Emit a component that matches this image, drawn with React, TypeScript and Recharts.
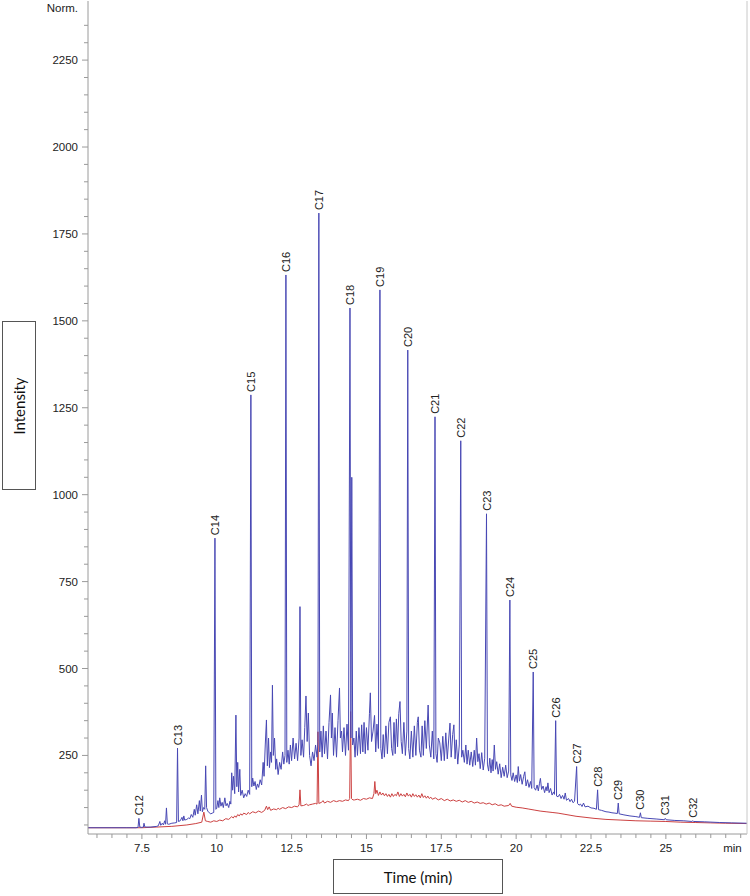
import React from 'react';
import { ComposedChart, Line, Scatter, XAxis, YAxis } from 'recharts';

// ---- data (time in min, intensity in Norm.) ----
const blueEarly: [number, number][] = [
  [5.7, 42], [6.5, 42], [7.0, 42], [7.3, 42], [7.37, 43], [7.4, 69], [7.43, 44], [7.5, 43], [7.55, 44], [7.57, 55], [7.6, 44],
  [7.8, 44], [8.0, 46], [8.05, 48], [8.1, 60], [8.13, 49], [8.18, 55], [8.22, 50], [8.26, 62], [8.29, 52], [8.32, 99], [8.35, 53],
  [8.4, 52], [8.5, 55], [8.6, 56], [8.66, 57], [8.69, 271], [8.72, 60], [8.78, 62], [8.84, 72], [8.87, 62], [8.9, 76], [8.93, 64],
  [9.0, 66], [9.06, 70], [9.1, 68], [9.15, 80], [9.2, 72], [9.25, 95], [9.28, 78], [9.33, 108], [9.37, 82], [9.42, 120], [9.45, 90],
  [9.49, 136], [9.52, 88], [9.56, 100], [9.6, 95], [9.63, 220], [9.66, 100], [9.7, 90], [9.75, 85], [9.8, 82], [9.85, 84], [9.9, 86],
  [9.94, 875], [9.97, 95], [10.0, 98], [10.04, 120], [10.07, 100], [10.1, 128], [10.14, 104], [10.18, 115], [10.22, 100], [10.27, 128],
  [10.31, 105], [10.35, 112], [10.4, 100], [10.44, 118], [10.47, 110],
];
const blueMiddle: [number, number][] = [
  [10.5, 200], [10.53, 150], [10.56, 190], [10.6, 140], [10.64, 366], [10.67, 160], [10.7, 230], [10.73, 145], [10.77, 210], [10.8, 135],
  [10.85, 150], [10.9, 128], [10.95, 140], [11.0, 132], [11.05, 150], [11.1, 138], [11.14, 1287], [11.17, 160], [11.2, 185], [11.24, 162],
  [11.28, 175], [11.32, 152], [11.36, 168], [11.4, 158], [11.45, 180], [11.5, 165], [11.55, 230], [11.58, 190], [11.62, 280], [11.66, 352],
  [11.69, 220], [11.73, 300], [11.76, 215], [11.8, 260], [11.83, 230], [11.86, 452], [11.89, 250], [11.93, 300], [11.97, 210], [12.0, 240],
  [12.05, 195], [12.1, 230], [12.15, 210], [12.2, 260], [12.24, 225], [12.28, 250], [12.31, 1632], [12.34, 230], [12.38, 265], [12.42, 225],
  [12.46, 280], [12.5, 235], [12.55, 300], [12.6, 240], [12.65, 285], [12.7, 235], [12.75, 300], [12.78, 678], [12.81, 250], [12.85, 295],
  [12.9, 245], [12.94, 330], [12.98, 421], [13.02, 290], [13.06, 372], [13.1, 250], [13.15, 220], [13.2, 260], [13.25, 235], [13.3, 280],
  [13.35, 245], [13.38, 290], [13.41, 1810], [13.44, 260], [13.48, 320], [13.52, 245], [13.56, 335], [13.6, 255], [13.65, 320], [13.7, 240],
  [13.75, 345], [13.8, 424], [13.83, 300], [13.86, 372], [13.9, 250], [13.95, 330], [14.0, 245], [14.05, 350], [14.1, 444], [14.13, 300],
  [14.17, 320], [14.2, 260], [14.25, 330], [14.3, 250], [14.35, 340], [14.4, 265], [14.45, 1537], [14.48, 300], [14.51, 1050], [14.54, 280],
  [14.58, 300], [14.62, 245], [14.66, 320], [14.7, 250], [14.75, 330], [14.8, 255], [14.84, 338], [14.88, 260], [14.92, 345], [14.96, 255],
  [15.0, 330], [15.05, 265], [15.1, 370], [15.13, 430], [15.17, 290], [15.22, 320], [15.27, 365], [15.31, 260], [15.35, 340], [15.4, 270],
  [15.45, 1589], [15.48, 270], [15.52, 240], [15.56, 310], [15.6, 245], [15.65, 335], [15.7, 255], [15.75, 345], [15.8, 361], [15.84, 270],
  [15.88, 250], [15.92, 345], [15.96, 255],
];
const blueLate: [number, number][] = [
  [16.0, 355], [16.04, 275], [16.08, 370], [16.12, 405], [16.16, 290], [16.2, 255], [16.25, 345], [16.3, 250], [16.35, 320], [16.38, 1416],
  [16.41, 270], [16.45, 240], [16.5, 320], [16.55, 245], [16.6, 335], [16.65, 250], [16.7, 345], [16.73, 361], [16.77, 265], [16.82, 245],
  [16.86, 335], [16.9, 250], [16.95, 350], [17.0, 270], [17.06, 395], [17.1, 280], [17.15, 245], [17.2, 320], [17.25, 240], [17.29, 1224],
  [17.32, 255], [17.36, 230], [17.4, 300], [17.45, 286], [17.5, 235], [17.55, 305], [17.6, 235], [17.65, 315], [17.7, 240], [17.75, 300],
  [17.79, 343], [17.83, 245], [17.88, 310], [17.92, 338], [17.96, 240], [18.0, 295], [18.05, 225], [18.1, 280], [18.15, 1155], [18.18, 245],
  [18.22, 265], [18.27, 230], [18.32, 280], [18.36, 225], [18.4, 265], [18.45, 222], [18.5, 260], [18.55, 218], [18.6, 265], [18.64, 222],
  [18.68, 300], [18.72, 232], [18.76, 255], [18.8, 212], [18.85, 258], [18.9, 208], [18.95, 242], [19.01, 945], [19.04, 225], [19.08, 205],
  [19.12, 242], [19.16, 200], [19.2, 238], [19.23, 205], [19.27, 280], [19.31, 210], [19.35, 232], [19.4, 196], [19.45, 226], [19.5, 186],
  [19.55, 216], [19.6, 190], [19.65, 222], [19.7, 186], [19.75, 205], [19.79, 697], [19.82, 194], [19.86, 178], [19.9, 200], [19.95, 175],
  [20.0, 194], [20.04, 172], [20.07, 218], [20.11, 176], [20.15, 195], [20.2, 167], [20.25, 190], [20.29, 203], [20.33, 162], [20.38, 180],
  [20.43, 158], [20.48, 175], [20.52, 155], [20.57, 490], [20.6, 158], [20.65, 150], [20.7, 165], [20.74, 148], [20.78, 170], [20.81, 184],
  [20.85, 152], [20.9, 162], [20.95, 143], [21.0, 160], [21.03, 148], [21.06, 171], [21.1, 143], [21.15, 155], [21.2, 136], [21.25, 145],
  [21.28, 138], [21.32, 350], [21.35, 133], [21.4, 131], [21.45, 138],
];
const blueTail: [number, number][] = [
  [21.5, 126], [21.55, 135], [21.6, 124], [21.64, 142], [21.68, 121], [21.75, 126], [21.8, 117], [21.85, 124], [21.9, 114], [21.95, 118],
  [22.02, 218], [22.05, 112], [22.1, 107], [22.15, 110], [22.2, 103], [22.25, 113], [22.3, 102], [22.4, 104], [22.5, 99], [22.6, 98],
  [22.68, 95], [22.72, 151], [22.75, 94], [22.85, 92], [23.0, 88], [23.1, 87], [23.2, 85], [23.3, 84], [23.38, 83], [23.41, 113],
  [23.44, 82], [23.6, 79], [23.8, 76], [24.0, 74], [24.12, 72], [24.15, 85], [24.18, 71], [24.4, 69], [24.7, 67], [24.95, 65],
  [24.98, 69], [25.01, 65], [25.3, 63], [25.6, 62], [25.87, 60], [25.9, 62], [25.93, 60], [26.3, 59], [26.8, 57], [27.2, 56], [27.71, 55],
];

const redEarly: [number, number][] = [
  [5.7, 42], [7.0, 42], [7.5, 42], [8.0, 44], [8.5, 46], [9.0, 50], [9.3, 54], [9.5, 58], [9.57, 87], [9.62, 62], [9.7, 60], [9.8, 58],
  [9.9, 62], [10.0, 60], [10.1, 64], [10.2, 62], [10.3, 68], [10.4, 66], [10.5, 74], [10.55, 70], [10.6, 76], [10.65, 72], [10.7, 80],
  [10.75, 76], [10.8, 82], [10.85, 78], [10.9, 84], [11.0, 80], [11.05, 86], [11.1, 82], [11.2, 88], [11.3, 85], [11.4, 90], [11.5, 86],
  [11.6, 92], [11.66, 104], [11.7, 94], [11.75, 102], [11.8, 92], [11.9, 96], [12.0, 94], [12.05, 98], [12.1, 95], [12.2, 100], [12.3, 97],
  [12.4, 102], [12.5, 100], [12.6, 104], [12.7, 102], [12.75, 108], [12.78, 151], [12.81, 105], [12.9, 106],
];
const redMiddle: [number, number][] = [
  [13.0, 110], [13.05, 106], [13.1, 108], [13.2, 110], [13.3, 112], [13.35, 110], [13.38, 318], [13.41, 112], [13.5, 115], [13.55, 120],
  [13.6, 113], [13.7, 118], [13.8, 115], [13.9, 120], [14.0, 117], [14.1, 120], [14.2, 118], [14.3, 122], [14.4, 120], [14.44, 126],
  [14.47, 376], [14.5, 126], [14.55, 122], [14.6, 122], [14.7, 124], [14.8, 121], [14.9, 126], [15.0, 124], [15.1, 128], [15.2, 126],
  [15.25, 140], [15.28, 175], [15.31, 140], [15.35, 150], [15.4, 135], [15.45, 145], [15.5, 136], [15.55, 142], [15.6, 134], [15.65, 140],
  [15.7, 132], [15.75, 138], [15.8, 130], [15.85, 140], [15.9, 132], [15.95, 138], [16.0, 134], [16.05, 145], [16.1, 132], [16.15, 140],
  [16.2, 133], [16.25, 138], [16.3, 131], [16.35, 142], [16.4, 133], [16.45, 138], [16.5, 130], [16.55, 140], [16.6, 132], [16.65, 137],
  [16.7, 130], [16.75, 136], [16.8, 128], [16.85, 140], [16.9, 129], [16.95, 134],
];
const redLate: [number, number][] = [
  [17.0, 127], [17.05, 133], [17.1, 126], [17.15, 130], [17.2, 124], [17.3, 128], [17.4, 122], [17.5, 126], [17.6, 120], [17.7, 124],
  [17.8, 119], [17.9, 122], [18.0, 118], [18.1, 121], [18.2, 116], [18.3, 120], [18.4, 115], [18.5, 118], [18.6, 113], [18.7, 116],
  [18.8, 112], [18.9, 114], [19.0, 110], [19.1, 113], [19.2, 108], [19.3, 111], [19.4, 106], [19.5, 108], [19.6, 104], [19.75, 106],
  [19.8, 112], [19.85, 104], [20.0, 101], [20.2, 99], [20.4, 96], [20.6, 93], [20.8, 90], [21.0, 88], [21.2, 86], [21.4, 84], [21.6, 81],
  [21.8, 78], [22.0, 75], [22.3, 72], [22.6, 69], [23.0, 66], [23.5, 64], [24.0, 62], [24.5, 61], [25.0, 60], [25.5, 58], [26.0, 57],
  [26.5, 56], [27.0, 55], [27.71, 54],
];

const peakNames = ['C12', 'C13', 'C14', 'C15', 'C16', 'C17', 'C18', 'C19', 'C20', 'C21', 'C22', 'C23', 'C24', 'C25', 'C26', 'C27', 'C28', 'C29', 'C30', 'C31', 'C32'];
const peakTimes = [7.4, 8.69, 9.94, 11.14, 12.31, 13.41, 14.45, 15.45, 16.38, 17.29, 18.15, 19.01, 19.79, 20.57, 21.32, 22.02, 22.72, 23.41, 24.15, 24.98, 25.9];
const peakHeights = [69, 271, 875, 1287, 1632, 1810, 1537, 1589, 1416, 1224, 1155, 945, 697, 490, 350, 218, 151, 113, 85, 69, 62];

const xLabelTicks = [7.5, 10, 12.5, 15, 17.5, 20, 22.5, 25];
const yLabelTicks = [250, 500, 750, 1000, 1250, 1500, 1750, 2000, 2250];

// ---- derived tables ----
const toRows = (arr: [number, number][]) => arr.map(([t, v]) => ({ t, v }));
const blueData = toRows([...blueEarly, ...blueMiddle, ...blueLate, ...blueTail]);
const redData = toRows([...redEarly, ...redMiddle, ...redLate]);
const peakData = peakNames.map((name, i) => ({ name, t: peakTimes[i], v: peakHeights[i] }));

const xTicks: number[] = [];
for (let k = 12; k <= 55; k++) xTicks.push(k / 2);
const yTicks: number[] = [];
for (let k = 1; k <= 48; k++) yTicks.push(k * 50);

const FONT = '"Liberation Sans", Arial, Helvetica, sans-serif';
const AXIS = '#9a9a9a';

const XTick = (props: any) => {
  const { x, y, payload } = props;
  const v = payload.value as number;
  const major = xLabelTicks.includes(v);
  return (
    <g>
      <line x1={x} x2={x} y1={y} y2={y + (major ? 5 : 4)} stroke={AXIS} strokeWidth={1} />
      {major && (
        <text x={x} y={y + 14} textAnchor="middle" dominantBaseline="central" fontFamily={FONT} fontSize={11.5} fill="#222">
          {String(v)}
        </text>
      )}
      {v === 27.5 && (
        <text x={x + 1} y={y + 14} textAnchor="end" dominantBaseline="central" fontFamily={FONT} fontSize={11.5} fill="#222">
          min
        </text>
      )}
    </g>
  );
};

const YTick = (props: any) => {
  const { x, y, payload } = props;
  const v = payload.value as number;
  const major = yLabelTicks.includes(v);
  const label = v === 2400 ? 'Norm.' : major ? String(v) : '';
  return (
    <g>
      {v !== 2400 && <line x1={x - (major ? 6 : 4)} x2={x} y1={y} y2={y} stroke={AXIS} strokeWidth={1} />}
      {label && (
        <text x={x - 10} y={y} textAnchor="end" dominantBaseline="central" fontFamily={FONT} fontSize={11.5} fill="#222">
          {label}
        </text>
      )}
    </g>
  );
};

const PeakLabel = (props: any) => {
  const { cx, cy, payload } = props;
  if (cx == null || cy == null) return null;
  const ay = cy - 3;
  return (
    <text
      x={cx}
      y={ay}
      transform={`rotate(-90 ${cx} ${ay})`}
      textAnchor="start"
      dominantBaseline="central"
      fontFamily={FONT}
      fontSize={11}
      fill="#222"
    >
      {payload.name}
    </text>
  );
};

export default function App() {
  return (
    <div style={{ position: 'absolute', left: 0, top: 0, width: 750, height: 896, background: '#fff' }}>
      <ComposedChart width={750} height={896} margin={{ top: 1, right: 0, bottom: 0, left: 0 }}>
        <XAxis
          type="number"
          dataKey="t"
          domain={[5.7, 27.71]}
          ticks={xTicks}
          interval={0}
          allowDataOverflow
          height={62}
          tickSize={0}
          tickMargin={0}
          tick={<XTick />}
          axisLine={{ stroke: AXIS }}
          tickLine={false}
        />
        <YAxis
          type="number"
          dataKey="v"
          domain={[24, 2420]}
          ticks={yTicks}
          interval={0}
          allowDataOverflow
          width={88}
          tickSize={0}
          tickMargin={0}
          tick={<YTick />}
          axisLine={{ stroke: AXIS }}
          tickLine={false}
        />
        <YAxis yAxisId="r" orientation="right" width={3} domain={[0, 1]} tick={false} tickLine={false} axisLine={{ stroke: '#c8c8c8' }} />
        <Line data={redData} dataKey="v" type="linear" stroke="#cc4141" strokeWidth={1} dot={false} isAnimationActive={false} />
        <Line data={blueData} dataKey="v" type="linear" stroke="#4848b4" strokeWidth={1} dot={false} isAnimationActive={false} />
        <Scatter data={peakData} dataKey="v" shape={<PeakLabel />} isAnimationActive={false} />
      </ComposedChart>
      <div
        style={{
          position: 'absolute', left: 2, top: 321, width: 34, height: 169, boxSizing: 'border-box',
          border: '1px solid #555', display: 'flex', alignItems: 'center', justifyContent: 'center',
        }}
      >
        <span style={{ transform: 'rotate(-90deg)', whiteSpace: 'nowrap', fontFamily: 'Lato, sans-serif', fontSize: 15, color: '#111' }}>
          Intensity
        </span>
      </div>
      <div
        style={{
          position: 'absolute', left: 333, top: 859, width: 170, height: 35, boxSizing: 'border-box',
          border: '1px solid #555', display: 'flex', alignItems: 'center', justifyContent: 'center',
          fontFamily: 'Lato, sans-serif', fontSize: 15, color: '#111',
        }}
      >
        Time (min)
      </div>
    </div>
  );
}
